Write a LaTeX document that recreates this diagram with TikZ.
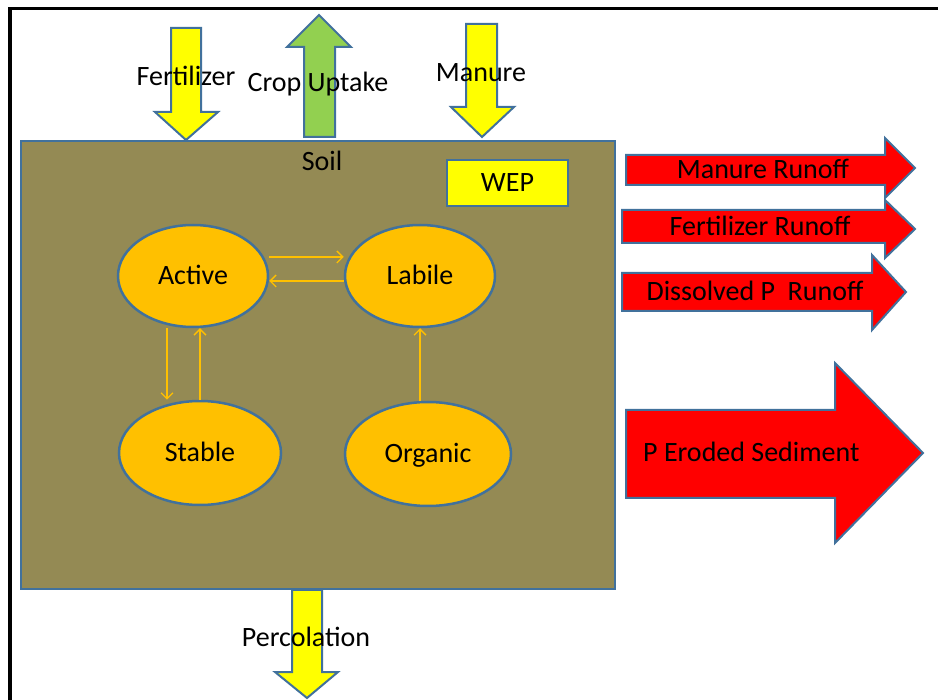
\documentclass[tikz,border=0pt]{standalone}
\usepackage{fontspec}
\setmainfont{Carlito}
\usetikzlibrary{shapes.geometric,arrows.meta}
\definecolor{soilc}{HTML}{948A54}
\definecolor{edgec}{HTML}{41719C}
\definecolor{ylw}{HTML}{FFFF00}
\definecolor{grn}{HTML}{92D050}
\definecolor{redc}{HTML}{FF0000}
\definecolor{orng}{HTML}{FFC000}
\begin{document}
\begin{tikzpicture}[x=1pt,y=-1pt,
  blk/.style={draw=edgec,line width=2pt,line join=miter},
  txt/.style={font=\fontsize{28}{32}\selectfont, text height=20pt, text depth=2pt},
  lbl/.style={txt, inner sep=0pt, text=black},
  pool/.style={ellipse, draw=edgec, line width=2.5pt, fill=orng, inner sep=0pt, txt},
  conn/.style={draw=orng, line width=1.3pt, -{Straight Barb[length=6pt,width=12pt]}}]
\useasboundingbox (0,0) rectangle (938,700);
% frame
\draw[line width=3.5pt, line join=miter] (10,700) -- (10,8.5) -- (938,8.5);
% soil box
\node[blk, fill=soilc, minimum width=594pt, minimum height=448pt, inner sep=0pt] (soil) at (318,365) {};
\node[lbl] (soiltxt) at (322,162) {Soil};
\node[blk, fill=ylw, minimum width=121pt, minimum height=46pt, inner sep=0pt, txt] (wep) at (507.5,183) {WEP};
% top arrows
\draw[blk, fill=ylw] (171,28) -- (201,28) -- (201,112) -- (218,112) -- (186,140) -- (155,112) -- (171,112) -- cycle;
\draw[blk, fill=grn] (304,137) -- (335,137) -- (335,47) -- (351,47) -- (319,15) -- (287,47) -- (304,47) -- cycle;
\draw[blk, fill=ylw] (466,24) -- (497,24) -- (497,107) -- (514,107) -- (482,137) -- (451,107) -- (466,107) -- cycle;
\node[lbl] (fert) at (186,77) {Fertilizer};
\node[lbl] (crop) at (318,83) {Crop Uptake};
\node[lbl] (man) at (481,73) {Manure};
% percolation
\draw[blk, fill=ylw] (292,590) -- (322,590) -- (322,672) -- (338,672) -- (307,698) -- (275,672) -- (292,672) -- cycle;
\node[lbl] (perc) at (306,637) {Percolation};
% right arrows
\draw[blk, fill=redc] (626,155) -- (885,155) -- (885,138) -- (915,168) -- (885,198) -- (885,185) -- (626,185) -- cycle;
\node[lbl] (mro) at (763,170) {Manure Runoff};
\draw[blk, fill=redc] (622,210) -- (885,210) -- (885,200) -- (915,229) -- (885,258) -- (885,243) -- (622,243) -- cycle;
\node[lbl] (fro) at (760,227) {Fertilizer Runoff};
\draw[blk, fill=redc] (622,273) -- (872,273) -- (872,255) -- (906,292) -- (872,330) -- (872,311) -- (622,311) -- cycle;
\node[lbl] (dro) at (755,292) {Dissolved P\ \ Runoff};
\draw[blk, fill=redc] (626,410) -- (835,410) -- (835,363) -- (923,453) -- (835,543) -- (835,498) -- (626,498) -- cycle;
\node[lbl, anchor=west] (ero) at (643,453) {P Eroded Sediment};
% pools
\node[pool, minimum width=150pt, minimum height=102pt] (active) at (193,276) {Active};
\node[pool, minimum width=150pt, minimum height=102pt] (labile) at (420,276) {Labile};
\node[pool, minimum width=162pt, minimum height=104pt] (stable) at (200,453) {Stable};
\node[pool, minimum width=166pt, minimum height=104pt] (organic) at (428,454) {Organic};
% connectors
\draw[conn] ([yshift=19pt]active.east) -- ([yshift=19pt]labile.west);
\draw[conn] ([yshift=-5pt]labile.west) -- ([yshift=-5pt]active.east);
\draw[conn] ([xshift=-26pt]active.south) -- ([xshift=-33pt]stable.north);
\draw[conn] (stable.north) -- ([xshift=7pt]active.south);
\draw[conn] (labile.south |- organic.north) -- (labile.south);
\end{tikzpicture}
\end{document}
